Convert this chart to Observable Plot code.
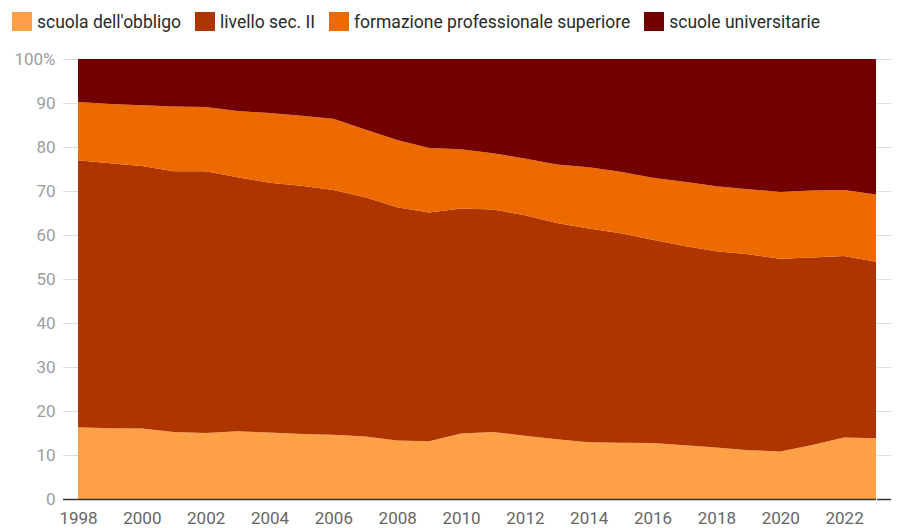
<!DOCTYPE html>
<html><head><meta charset="utf-8">
<script src="https://cdn.jsdelivr.net/npm/d3@7"></script>
<script src="https://cdn.jsdelivr.net/npm/@observablehq/plot@0.6"></script>
<style>
body{margin:0;background:#fff;font-family:Roboto,sans-serif;}
#legend{height:40px;display:flex;align-items:center;font-size:17.5px;color:#2a2a2a;padding-left:12px;padding-top:3px;box-sizing:border-box;}
.item{display:flex;align-items:center;margin-right:14px;}
.sw{width:20px;height:19px;margin-right:5px;}
</style></head><body>
<div id="legend"></div>
<div id="chart"></div>
<script>
const years = d3.range(1998, 2024);
const categories = ["scuola dell'obbligo","livello sec. II","formazione professionale superiore","scuole universitarie"];
const colors = ["#fea146","#ae3500","#ed6a00","#730000"];
const obbligo = [16.3,16.1,16.0,15.2,15.0,15.4,15.1,14.8,14.6,14.2,13.3,13.1,14.9,15.2,14.4,13.6,12.9,12.8,12.7,12.2,11.7,11.1,10.8,12.3,14.0,13.8];
const secII = [60.7,60.2,59.7,59.3,59.5,57.7,56.8,56.4,55.6,54.4,53.0,52.0,51.1,50.6,50.1,49.1,48.6,47.6,46.2,45.3,44.6,44.5,43.8,42.6,41.2,40.1];
const formazione = [13.2,13.5,13.8,14.7,14.6,15.1,15.8,15.9,16.2,15.4,15.3,14.7,13.5,12.8,12.9,13.3,13.9,14.0,14.1,14.6,14.8,14.8,15.2,15.2,15.0,15.3];
const universitarie = [9.8,10.2,10.5,10.8,10.9,11.8,12.3,12.9,13.6,16.0,18.4,20.2,20.5,21.4,22.6,24.0,24.6,25.6,27.0,27.9,28.9,29.6,30.2,29.9,29.8,30.8];
const yTicks = [0,10,20,30,40,50,60,70,80,90,100];
const xTicks = d3.range(1998, 2023, 2);

const series = [obbligo, secII, formazione, universitarie];
const data = [];
series.forEach((s, i) => s.forEach((v, j) => data.push({year: years[j], cat: categories[i], value: v})));

const leg = document.getElementById("legend");
categories.forEach((c, i) => {
  const d = document.createElement("div"); d.className = "item";
  d.innerHTML = `<span class="sw" style="background:${colors[i]}"></span><span>${c}</span>`;
  leg.appendChild(d);
});

const chart = Plot.plot({
  width: 897, height: 488,
  marginTop: 19, marginBottom: 29, marginLeft: 78, marginRight: 21,
  style: {fontFamily: "Roboto, sans-serif", fontSize: "17px", background: "#fff"},
  x: {domain: [1998, 2023]},
  y: {domain: [0, 100]},
  color: {domain: categories, range: colors},
  marks: [
    Plot.axisY(yTicks, {anchor: "left", tickSize: 15, tickPadding: 8, stroke: "#ddd", fill: "#9e9e9e", tickFormat: d => d === 100 ? "100%" : d, label: null}),
    Plot.axisY(yTicks, {anchor: "right", tickSize: 14, stroke: "#ddd", fill: "none", label: null}),
    Plot.areaY(data, {x: "year", y: "value", fill: "cat", order: categories}),
    Plot.axisY([0], {anchor: "left", tickSize: 15, stroke: "#333", strokeWidth: 1.5, fill: "none", label: null}),
    Plot.axisY([0], {anchor: "right", tickSize: 14, stroke: "#333", strokeWidth: 1.5, fill: "none", label: null}),
    Plot.ruleY([0], {stroke: "#333", strokeWidth: 1.5}),
    Plot.axisX(xTicks, {tickSize: 0, tickPadding: 12, fill: "#666", tickFormat: d => String(d), label: null})
  ]
});
document.getElementById("chart").appendChild(chart);
</script>
</body></html>
